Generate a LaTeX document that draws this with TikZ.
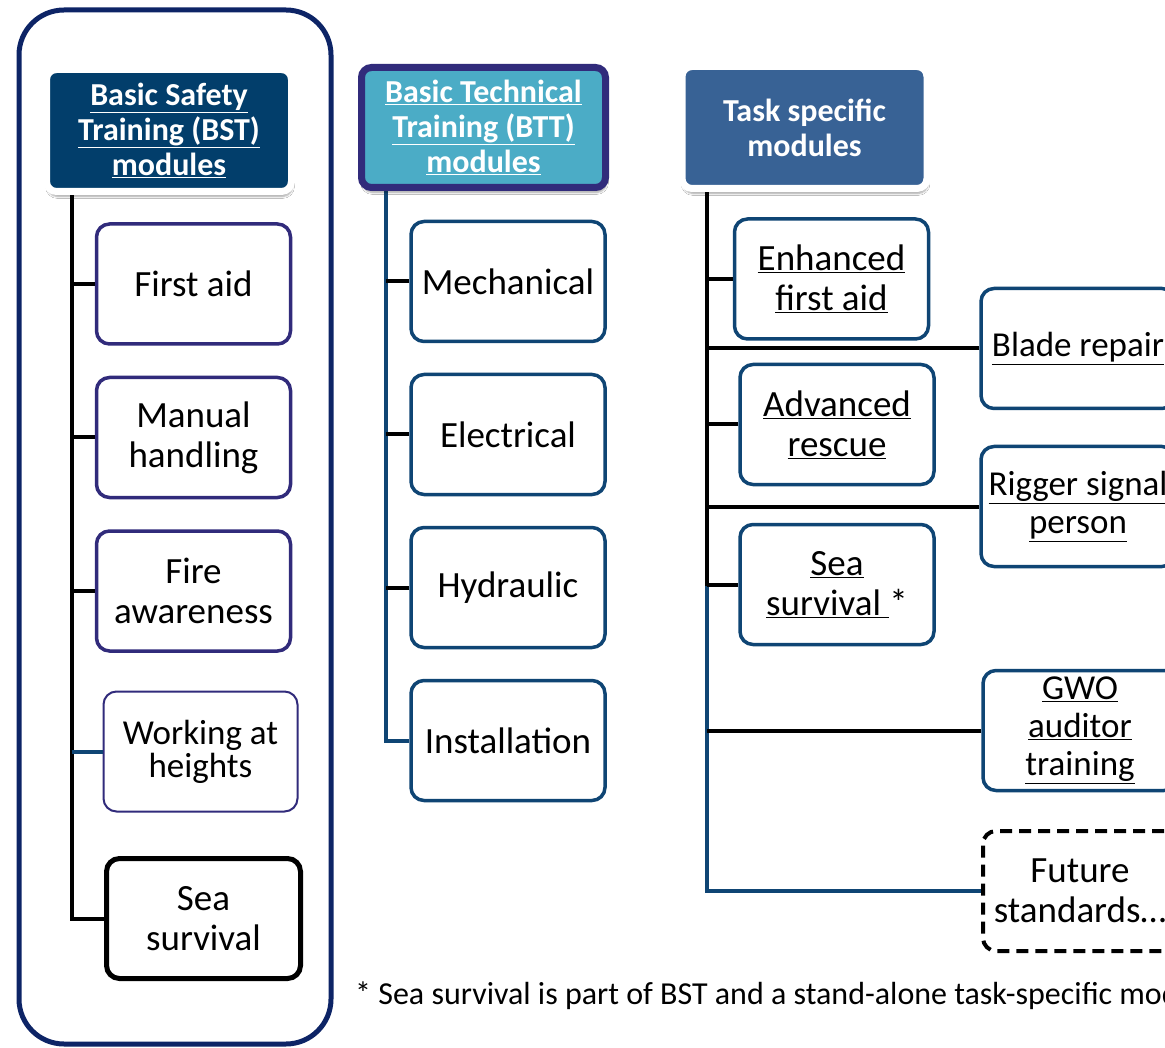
\documentclass[tikz,border=0pt]{standalone}
\usepackage{fontspec}
\setmainfont{Carlito}
\usetikzlibrary{shadows,shadows.blur}
\definecolor{navyOuter}{HTML}{0D2466}
\definecolor{purpleB}{HTML}{312B7B}
\definecolor{blueB}{HTML}{0F4574}
\definecolor{bstFill}{HTML}{023E6B}
\definecolor{bttFill}{HTML}{4BACC6}
\definecolor{taskFill}{HTML}{386295}
\tikzset{
  hdr/.style={rounded corners=10pt, line width=7pt, minimum width=245pt, minimum height=122pt,
    align=center, inner sep=0pt, text=white, font=\fontsize{32}{35}\selectfont\bfseries,
    blur shadow={shadow blur steps=6, shadow xshift=1pt, shadow yshift=-5pt, shadow opacity=35}},
  mbox/.style={draw, fill=white, rounded corners=13pt, line width=3.5pt, minimum width=194pt,
    minimum height=120pt, align=center, inner sep=0pt, font=\fontsize{37}{40}\selectfont},
  bstbox/.style={mbox, draw=purpleB},
  bluebox/.style={mbox, draw=blueB},
  rbox/.style={bluebox, font=\fontsize{35}{38}\selectfont},
  conn/.style={line width=4pt, black},
  bconn/.style={line width=4pt, blueB},
}
\begin{document}
\begin{tikzpicture}[x=1pt,y=-1pt]
\useasboundingbox (0,0) rectangle (1165,1048);
\clip (0,0) rectangle (1165,1048);
\fill[white] (0,0) rectangle (1165,1048);
% outer frame
\draw[navyOuter, line width=5pt, rounded corners=45pt] (19,10) rectangle (331,1044);
% coordinates for trunks
\coordinate (bstTop) at (72,190);
\coordinate (bttTop) at (386,188);
\coordinate (taskTop) at (707,188);
\coordinate (taskMid) at (707,586);
% BST column
\node[bstbox] (fa) at (193.5,284) {First aid};
\node[bstbox] (mh) at (193.5,437.5) {Manual\\handling};
\node[bstbox] (fire) at (193.5,591) {Fire\\awareness};
\node[mbox, draw=purpleB, line width=2pt, font=\fontsize{35}{33}\selectfont] (wah) at (200.5,751.5) {Working at\\heights};
\node[mbox, draw=black, line width=5pt] (sea1) at (203.5,918.5) {Sea\\survival};
\draw[conn] (bstTop) |- (sea1.west);
\draw[conn] (fa.west) -- (fa.west -| bstTop);
\draw[conn] (mh.west) -- (mh.west -| bstTop);
\draw[conn] (fire.west) -- (fire.west -| bstTop);
\draw[bconn] (wah.west) -- (wah.west -| bstTop);
\node[hdr, draw=white, fill=bstFill] (bst) at (169,130.5) {\underline{Basic Safety}\\\underline{Training (BST)}\\\underline{modules}};
% BTT column
\node[bluebox] (mech) at (508,281.5) {Mechanical};
\node[bluebox] (elec) at (508,434.5) {Electrical};
\node[bluebox] (hyd) at (508,587.5) {Hydraulic};
\node[bluebox] (inst) at (508,740.5) {Installation};
\draw[bconn] (bttTop) |- (inst.west);
\draw[conn] (mech.west) -- (mech.west -| bttTop);
\draw[conn] (elec.west) -- (elec.west -| bttTop);
\draw[conn] (hyd.west) -- (hyd.west -| bttTop);
\node[hdr, draw=purpleB, fill=bttFill, minimum width=244pt, minimum height=120pt] (btt) at (483.5,127.5) {\underline{Basic Technical}\\\underline{Training (BTT)}\\\underline{modules}};
% Task specific column
\node[bluebox] (enh) at (831.5,279) {\underline{Enhanced}\\\underline{first aid}};
\node[bluebox] (adv) at (837,424.5) {\underline{Advanced}\\\underline{rescue}};
\node[bluebox] (sea2) at (837,584.5) {\underline{Sea}\\\underline{survival\ }*};
\node[rbox] (blade) at (1078,348.5) {\underline{Blade repair}};
\node[rbox] (rig) at (1078,506.5) {\underline{Rigger signal}\\\underline{person}};
\node[rbox] (gwo) at (1080,730.5) {\underline{GWO}\\\underline{auditor}\\\underline{training}};
\node[mbox, draw=black, dashed, dash pattern=on 12pt off 7pt, line width=4pt] (fut) at (1080,891) {Future\\standards\ldots};
\draw[conn] (taskTop) -- (taskMid);
\draw[bconn] (taskMid) |- (fut.west);
\draw[conn] (enh.west) -- (enh.west -| taskTop);
\draw[conn] (blade.west) -- (blade.west -| taskTop);
\draw[conn] (adv.west) -- (adv.west -| taskTop);
\draw[conn] (rig.west) -- (rig.west -| taskTop);
\draw[conn] (sea2.west) -- (sea2.west -| taskTop);
\draw[conn] (gwo.west) -- (gwo.west -| taskTop);
\node[hdr, draw=white, fill=taskFill] (task) at (804.5,127.5) {Task specific\\modules};
% footnote
\node[anchor=west, inner sep=0pt, font=\fontsize{32}{35}\selectfont] (note) at (355,996) {* Sea survival is part of BST and a stand-alone task-specific module};
\end{tikzpicture}
\end{document}
